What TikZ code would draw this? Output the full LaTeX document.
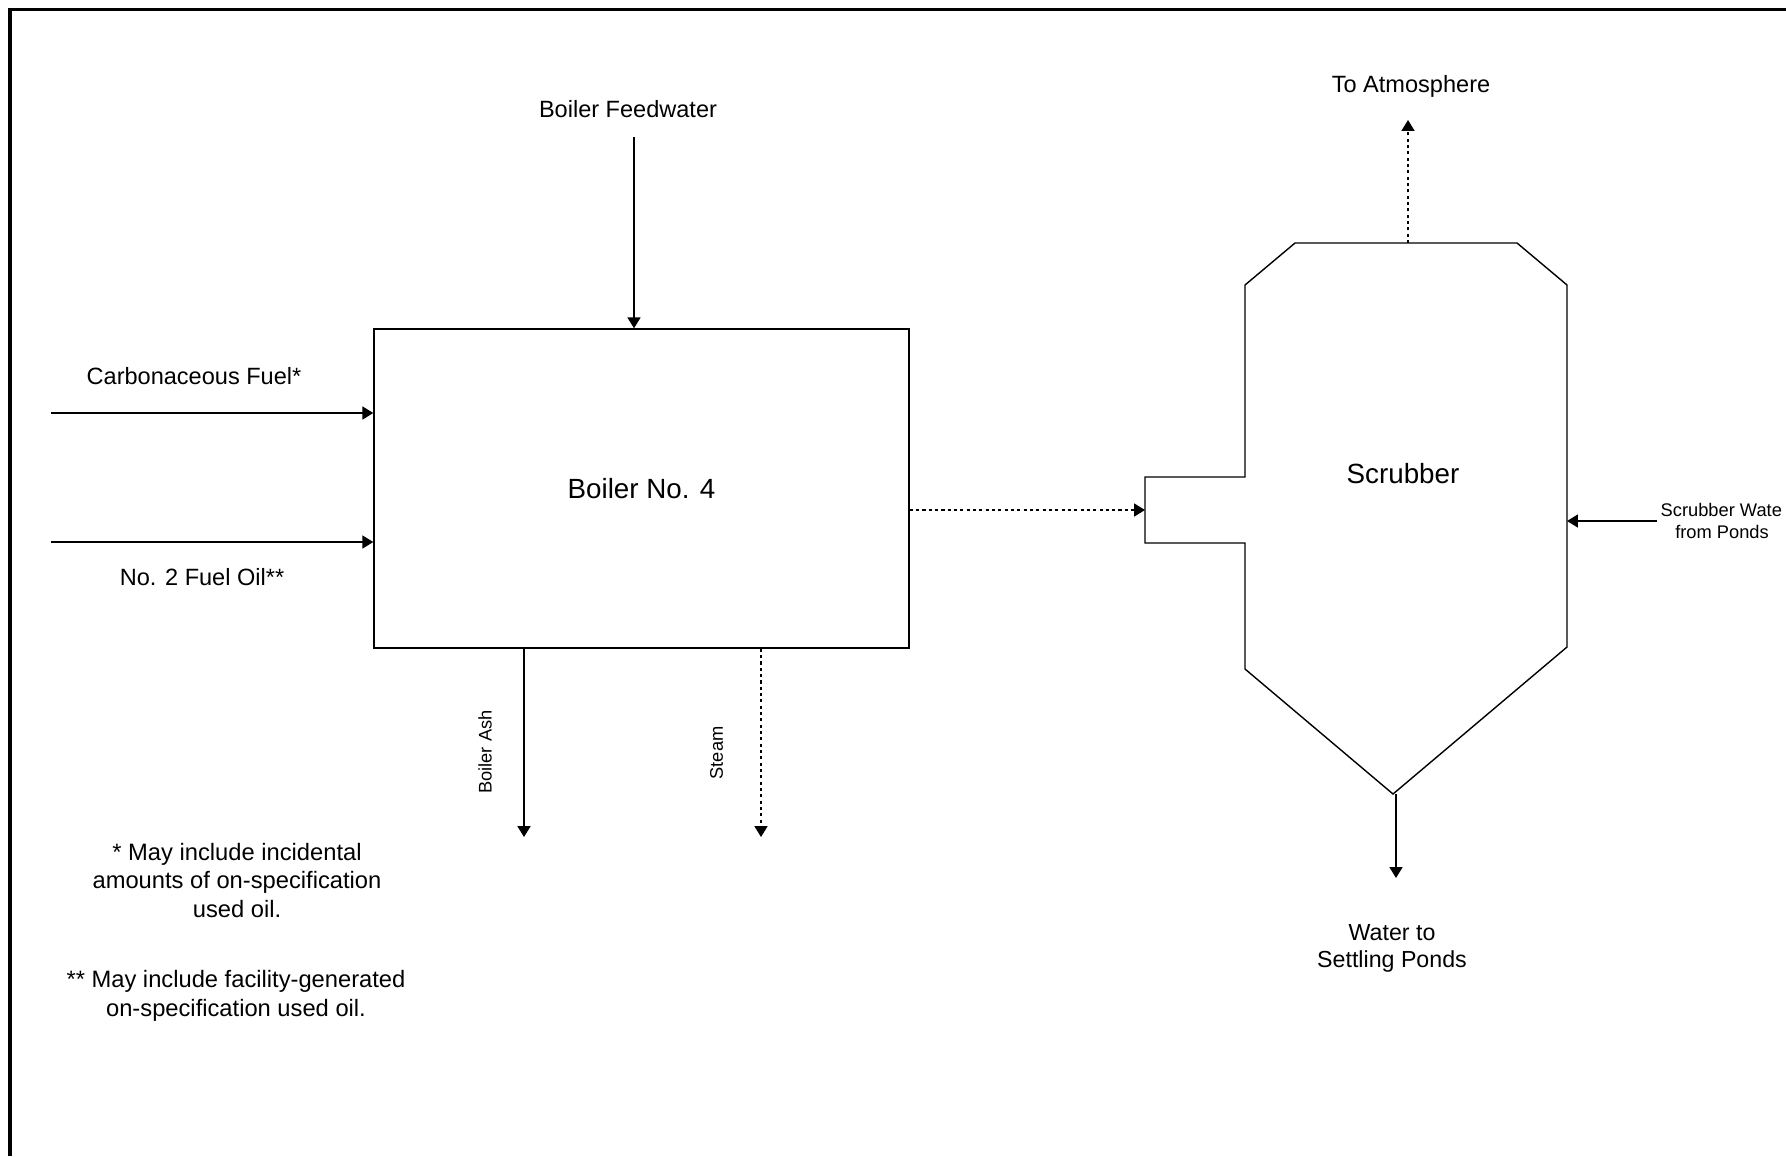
\documentclass[tikz,border=0pt]{standalone}
\usepackage{fontspec}
\setmainfont{Liberation Sans}
\usetikzlibrary{arrows.meta,calc,positioning}
\newcommand{\fsmain}{\fontsize{6.7}{8.2}\selectfont}
\newcommand{\fsbig}{\fontsize{7.9}{9.5}\selectfont}
\newcommand{\fsfoot}{\fontsize{6.75}{8.1}\selectfont}
\newcommand{\fssmall}{\fontsize{5.2}{6.2}\selectfont}

\begin{document}
\begin{tikzpicture}[x=0.1mm,y=-0.1mm,line width=0.4pt,>={Triangle[length=3.1pt,width=3.7pt]},
  flowdot/.style={dash pattern=on 0.9pt off 0.9pt},
  lbl/.style={inner sep=0pt,font=\fsmain,align=center}]
  \useasboundingbox (0,0) rectangle (1786,1156);
  \draw[line width=0.9pt] (10,1156) -- (10,9.5) -- (1786,9.5);
  % boiler
  \node[draw,minimum width=53.5mm,minimum height=31.9mm,inner sep=0pt,font=\fsbig] (boiler) at (641.5,488.5) {Boiler No. 4};
  \node[lbl] (fwl) at (628,109) {Boiler Feedwater};
  \coordinate (fw) at (634,137);
  \draw[->] (fw) -- (fw |- boiler.north);
  \node[lbl] (cfl) at (194,376) {Carbonaceous Fuel*};
  \node[lbl] (fol) at (202,577) {No. 2 Fuel Oil**};
  \foreach \y/\n in {413/cf,542/fo} {\coordinate (\n) at (51,\y); \draw[->] (\n) -- (\n -| boiler.west);}
  \coordinate (ash) at (524,837);
  \coordinate (stm) at (761,837);
  \draw[->] (ash |- boiler.south) -- (ash);
  \draw[->,flowdot] (stm |- boiler.south) -- (stm);
  \node[lbl,font=\fssmall,rotate=90] (ashl) at (485,752) {Boiler Ash};
  \node[lbl,font=\fssmall,rotate=90] (stml) at (716.5,753) {Steam};
  % scrubber
  \coordinate (inlet) at (1145,510);
  \coordinate (stop) at (1408,243);
  \coordinate (sright) at (1567,521);
  \coordinate (sapex) at (1393,794);
  \draw (1295,243) -- (1517,243) -- (1567,285) -- (1567,647) -- (sapex) -- (1245,669) -- (1245,543)
    -- (1145,543) -- (1145,477) -- (1245,477) -- (1245,285) -- cycle;
  \node[lbl,font=\fsbig] (scr) at (1403,474) {Scrubber};
  \draw[->,flowdot] (inlet -| boiler.east) -- (inlet);
  \coordinate (atm) at (1408,120);
  \draw[->,flowdot] (stop) -- (atm);
  \node[lbl] (atml) at (1411,86) {To Atmosphere};
  \coordinate (win) at (1657,521);
  \draw[->] (win) -- (sright);
  \node[lbl,font=\fssmall,anchor=west] (winl) at (1660,510) {Scrubber Wate};
  \node[lbl,font=\fssmall] (winl2) at (1722,532) {from Ponds};
  \coordinate (wout) at (1396,878);
  \draw[->] (sapex -| wout) -- (wout);
  \node[lbl,font=\fontsize{6.6}{7.7}\selectfont] (woutl) at (1392,948.5) {Water to\\Settling Ponds};
  % notes
  \node[lbl,font=\fsfoot] (n1) at (237,880.5) {* May include incidental\\amounts of on-specification\\used oil.};
  \node[lbl,font=\fsfoot] (n2) at (236,996) {** May include facility-generated\\on-specification used oil.};
\end{tikzpicture}
\end{document}
